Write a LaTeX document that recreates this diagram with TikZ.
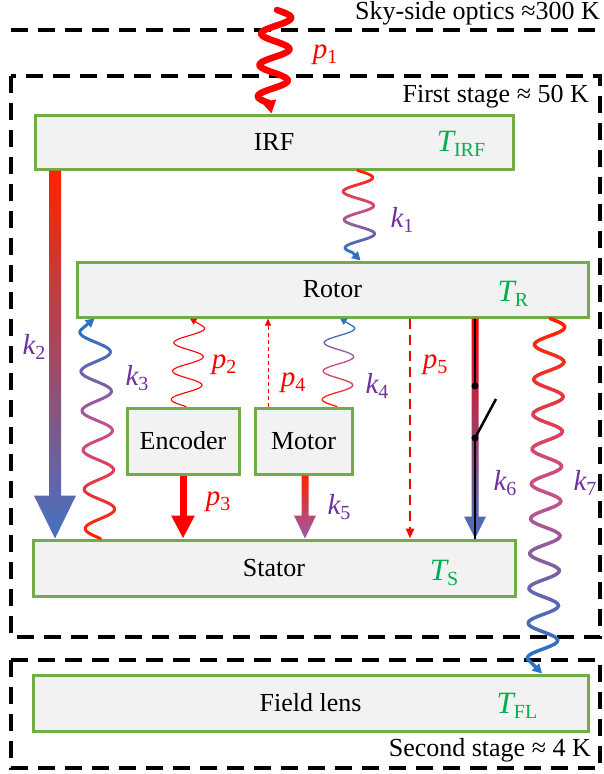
\documentclass[tikz,border=0pt]{standalone}
\usepackage{fontspec}
\setmainfont{Liberation Serif}
\usetikzlibrary{arrows.meta,calc}
\definecolor{bgreen}{HTML}{70AD47}
\definecolor{bfill}{HTML}{F2F2F2}
\definecolor{tgreen}{HTML}{00B050}
\definecolor{kpur}{HTML}{7030A0}
\definecolor{pred}{HTML}{FF0000}
\definecolor{gred}{HTML}{FF2200}
\definecolor{gmid}{HTML}{C8508A}
\definecolor{gblue}{HTML}{2A72C2}
\definecolor{ablue}{HTML}{4472C4}
\definecolor{apur}{HTML}{9A5AAA}
\definecolor{amid}{HTML}{D8487A}

\newcommand\txtfont{\fontsize{26}{30}\selectfont}
\newcommand\lbl[2]{{\fontsize{29}{32}\selectfont\itshape #1}{\fontsize{20}{22}\selectfont\raisebox{-5pt}{#2}}}
\newcommand\tlbl[1]{{\fontsize{31}{34}\selectfont\itshape T}{\fontsize{20}{22}\selectfont\raisebox{-5pt}{#1}}}

% wave settings: amplitude, cycles, line width, tip fraction
\newcommand\wavecfg[4]{\def\wA{#1}\def\wC{#2}\def\wW{#3}\def\wF{#4}}
% gradient wavy connector: start, end, colour at start, middle, end
\newcommand\gwave[5]{%
  \foreach \i in {0,...,35}{%
    \pgfmathsetmacro\ta{(1-\wF)*\i/36}%
    \pgfmathsetmacro\tb{(1-\wF)*(\i+1)/36}%
    \pgfmathtruncatemacro\pc{round(100*\i/35)}%
    \ifnum\pc<51
      \pgfmathtruncatemacro\pd{2*\pc}%
      \def\segcol{#4!\pd!#3}%
    \else
      \pgfmathtruncatemacro\pd{2*\pc-100}%
      \def\segcol{#5!\pd!#4}%
    \fi
    \draw[line width=\wW, line cap=round, draw=\segcol]
      let \p1=#1, \p2=#2 in
      plot[domain=\ta:\tb, samples=6, variable=\t]
      ({\x1+(\x2-\x1)*\t+(\wA)*sin(360*\wC*\t)},{\y1+(\y2-\y1)*\t});
  }%
  \draw[line width=\wW, draw=#5, -{Triangle[length=5pt 1.2,width=5pt 1.4]}]
    let \p1=#1, \p2=#2 in
    ({\x1+(\x2-\x1)*(1-\wF)+(\wA)*sin(360*\wC*(1-\wF))},{\y1+(\y2-\y1)*(1-\wF)}) -- #2;
}
% shaded straight downward arrow: start, end, shaft half width, head half width, head length, top, middle, bottom colour
\newcommand\garrow[8]{%
  \shade[top color=#6, middle color=#7, bottom color=#8]
    let \p1=#1, \p2=#2 in
    (\x1-#3pt,\y1) -- (\x2-#3pt,\y2+#5pt) -- (\x2-#4pt,\y2+#5pt) -- (\x2,\y2)
    -- (\x2+#4pt,\y2+#5pt) -- (\x2+#3pt,\y2+#5pt) -- (\x1+#3pt,\y1) -- cycle;
}

\begin{document}
\begin{tikzpicture}[x=1pt,y=-1pt,
  stagebox/.style={draw=black, line width=4pt, dash pattern=on 17pt off 10pt},
  part/.style={draw=bgreen, fill=bfill, line width=3pt, inner sep=0pt, font=\txtfont},
  tnode/.style={text=tgreen, inner sep=0pt},
  plab/.style={text=pred, inner sep=0pt},
  klab/.style={text=kpur, inner sep=0pt},
  stagetxt/.style={font=\txtfont, inner sep=0pt, anchor=east},
  swline/.style={draw=black, line width=2.5pt}]
\useasboundingbox (0,0) rectangle (603,774);

% stages
\draw[stagebox] (11,30) -- (603,30);
\draw[stagebox] (11,76) rectangle (600,637);
\draw[stagebox] (11,660) rectangle (600,768);
\node[stagetxt] (sky) at (600,13) {Sky-side optics ≈300 K};
\node[stagetxt] (first) at (589,97) {First stage ≈ 50 K};
\node[stagetxt] (second) at (591,750) {Second stage ≈ 4 K};

% parts
\node[part, minimum width=478pt, minimum height=54pt] (irf) at (274,142) {IRF};
\node[part, minimum width=511pt, minimum height=55pt] (rotor) at (332.5,289.5) {Rotor};
\node[part, minimum width=482pt, minimum height=56pt] (stator) at (274,568) {Stator};
\node[part, minimum width=555pt, minimum height=56pt] (fl) at (310.5,703) {Field lens};
\node[part, minimum width=112pt, minimum height=66pt] (enc) at (183,441) {Encoder};
\node[part, minimum width=97pt, minimum height=66pt] (mot) at (303.5,441) {Motor};

\node[tnode] (tirf) at (461,144) {\tlbl{IRF}};
\node[tnode] (tr) at (513,294) {\tlbl{R}};
\node[tnode] (ts) at (444,573) {\tlbl{S}};
\node[tnode] (tfl) at (517,706) {\tlbl{FL}};

% straight connectors
\garrow{([xshift=21.5pt]irf.south west)}{([xshift=23.5pt]stator.north west)}{6}{21}{43}{gred}{amid}{ablue}
\garrow{([xshift=51.5pt]mot.south west)}{([xshift=273.5pt]stator.north west)}{3.5}{11}{23}{gred}{amid}{apur}
\garrow{([xshift=399.5pt]rotor.south west)}{([xshift=443.5pt]stator.north west)}{3.5}{11}{22}{pred}{amid}{ablue}
\draw[pred, line width=7pt, -{Triangle[length=23pt,width=22pt]}] (enc.south) -- ([xshift=151.5pt]stator.north west);
\draw[pred, line width=1pt, dash pattern=on 4pt off 3pt, -{Triangle[length=7pt,width=6pt]}] ([xshift=14.5pt]mot.north west) -- ([xshift=192.5pt]rotor.south west);
\draw[pred, line width=2.5pt, dash pattern=on 10pt off 6pt, -{Triangle[length=10pt,width=8pt]}] ([xshift=334.5pt]rotor.south west) -- ([xshift=378.5pt]stator.north west);

% switch on k6
\coordinate (swa) at (475,386);
\coordinate (swb) at (475,438);
\coordinate (swc) at (496,399);
\draw[swline] ([xshift=399.5pt]rotor.south west) -- (swa);
\draw[swline] (swb) -- ([xshift=443.5pt]stator.north west);
\draw[swline] (swb) -- (swc);
\fill (swa) circle[radius=3.5pt];
\fill (swb) circle[radius=3.5pt];

% wavy connectors
\coordinate (p1src) at (277,10);
\wavecfg{14.5}{3.3}{6.5pt}{0.1}
\gwave{(p1src)}{([xshift=238pt]irf.north west)}{pred}{pred}{pred}
\wavecfg{15}{3.2}{2.8pt}{0.09}
\gwave{([xshift=324pt]irf.south west)}{([xshift=285pt]rotor.north west)}{gred}{gmid}{gblue}
\wavecfg{-15}{5.6}{3pt}{0.045}
\gwave{([xshift=69pt]stator.north west)}{([xshift=19pt]rotor.south west)}{gred}{gmid}{gblue}
\wavecfg{-15}{3.1}{1.1pt}{0.08}
\gwave{([xshift=60.5pt]enc.north west)}{([xshift=114.5pt]rotor.south west)}{pred}{pred}{pred}
\wavecfg{-15}{3.1}{1.3pt}{0.08}
\gwave{([xshift=83.5pt]mot.north west)}{([xshift=264.5pt]rotor.south west)}{gred}{gmid}{gblue}
\wavecfg{15}{10.2}{3.5pt}{0.035}
\gwave{([xshift=474.5pt]rotor.south west)}{([xshift=510.5pt]fl.north west)}{gred}{gmid}{gblue}

% labels
\node[plab] (lp1) at (325,55) {\lbl{p}{1}};
\node[klab] (lk1) at (402,220) {\lbl{k}{1}};
\node[klab] (lk2) at (34,347) {\lbl{k}{2}};
\node[klab] (lk3) at (137,378) {\lbl{k}{3}};
\node[plab] (lp2) at (224,365) {\lbl{p}{2}};
\node[plab] (lp4) at (293,383) {\lbl{p}{4}};
\node[klab] (lk4) at (377,386) {\lbl{k}{4}};
\node[plab] (lp5) at (435,365) {\lbl{p}{5}};
\node[plab] (lp3) at (218,502) {\lbl{p}{3}};
\node[klab] (lk5) at (339,507) {\lbl{k}{5}};
\node[klab] (lk6) at (505,483) {\lbl{k}{6}};
\node[klab] (lk7) at (585,483) {\lbl{k}{7}};
\end{tikzpicture}
\end{document}
